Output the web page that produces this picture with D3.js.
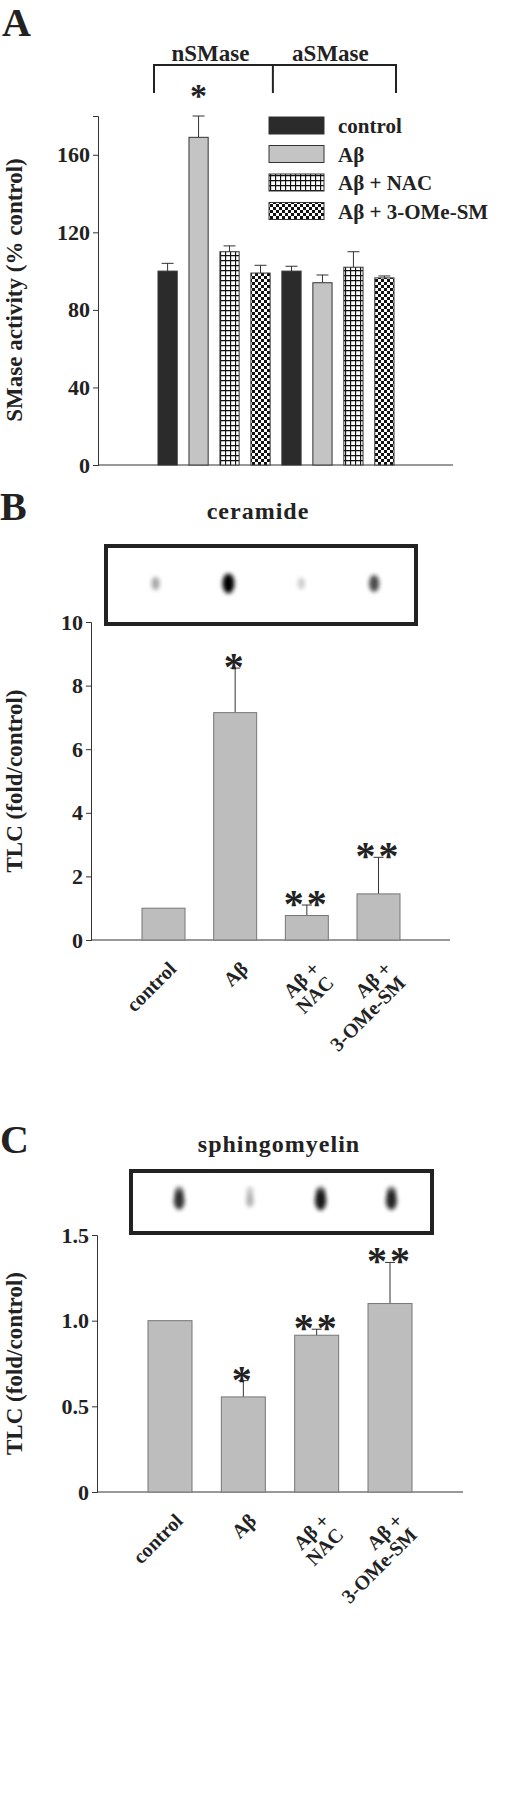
<!DOCTYPE html>
<html>
<head>
<meta charset="utf-8">
<script src="https://cdn.jsdelivr.net/npm/d3@7"></script>
<style>
  body { margin: 0; background: white; }
  text { font-family: "Liberation Serif", "Times New Roman", serif; font-weight: bold; fill: #222; }
</style>
</head>
<body>
<svg id="fig" width="512" height="1800"></svg>
<script>
// ---- data ----
let enzymes = ["nSMase", "aSMase"];
let treatments = ["control", "Aβ", "Aβ + NAC", "Aβ + 3-OMe-SM"];
let smaseMean = [[100, 169, 110, 99], [100, 94, 102, 96.5]];
let smaseErr = [[4, 11, 3, 4], [2.5, 4, 8, 1]];
let smaseStars = [["", "*", "", ""], ["", "", "", ""]];
let smaseTicks = [0, 40, 80, 120, 160];

let tlcLabels = [["control"], ["Aβ"], ["Aβ +", "NAC"], ["Aβ +", "3-OMe-SM"]];
let ceramideMean = [1.0, 7.15, 0.77, 1.45];
let ceramideErr = [0, 1.4, 0.33, 1.15];
let ceramideStars = ["", "*", "**", "**"];
let ceramideTicks = [0, 2, 4, 6, 8, 10];
let ceramideSpots = [0.35, 1.0, 0.2, 0.7];

let smMean = [1.0, 0.555, 0.915, 1.10];
let smErr = [0, 0.095, 0.035, 0.24];
let smStars = ["", "*", "**", "**"];
let smTicks = [0, 0.5, 1.0, 1.5];
let smSpots = [0.8, 0.3, 0.9, 0.85];

let svg = d3.select("#fig");
let defs = svg.append("defs");

// patterns
let grid = defs.append("pattern").attr("id", "grid").attr("patternUnits", "userSpaceOnUse")
  .attr("width", 5).attr("height", 5);
grid.append("rect").attr("width", 5).attr("height", 5).attr("fill", "white");
grid.append("path").attr("d", "M0,0.5H5M0.5,0V5").attr("stroke", "#111").attr("stroke-width", 1.3);
let checks = defs.append("pattern").attr("id", "checks").attr("patternUnits", "userSpaceOnUse")
  .attr("width", 6).attr("height", 6);
checks.append("rect").attr("width", 6).attr("height", 6).attr("fill", "white");
checks.append("rect").attr("width", 3).attr("height", 3).attr("fill", "#111");
checks.append("rect").attr("x", 3).attr("y", 3).attr("width", 3).attr("height", 3).attr("fill", "#111");
defs.append("filter").attr("id", "blur").attr("x", "-100%").attr("y", "-100%").attr("width", "300%").attr("height", "300%")
  .append("feGaussianBlur").attr("stdDeviation", 2.2);

let fills = ["#2b2b2b", "#c4c4c4", "url(#grid)", "url(#checks)"];

function yAxis(g, y, ticks, fmt, x0, fontSize) {
  g.append("g").attr("transform", "translate(" + x0 + ",0)")
    .call(d3.axisLeft(y).tickValues(ticks).tickSize(5).tickFormat(fmt))
    .call(a => a.select(".domain").attr("stroke", "#333"))
    .call(a => a.selectAll("line").attr("stroke", "#333"))
    .call(a => a.selectAll("text").attr("font-size", fontSize).attr("font-family", "Liberation Serif").attr("font-weight", "bold").attr("fill", "#222"));
}

// ---- Panel A ----
let gA = svg.append("g");
let yA = d3.scaleLinear().domain([0, 180]).range([465, 116]);
let xA = d3.scaleBand().domain(d3.range(8)).range([158, 394]).paddingInner(0.38);
yAxis(gA, yA, smaseTicks, d3.format("d"), 98, 22);
gA.append("line").attr("x1", 98).attr("x2", 453).attr("y1", yA(0)).attr("y2", yA(0)).attr("stroke", "#333");

let aData = [];
enzymes.forEach((e, i) => treatments.forEach((t, j) => aData.push({i: i * 4 + j, t: j, v: smaseMean[i][j], e: smaseErr[i][j], s: smaseStars[i][j]})));
aData.forEach(d => {
  let cx = xA(d.i) + xA.bandwidth() / 2;
  gA.append("line").attr("x1", cx).attr("x2", cx).attr("y1", yA(d.v)).attr("y2", yA(d.v + d.e)).attr("stroke", "#333");
  gA.append("line").attr("x1", cx - 6).attr("x2", cx + 6).attr("y1", yA(d.v + d.e)).attr("y2", yA(d.v + d.e)).attr("stroke", "#333");
  gA.append("rect").attr("x", xA(d.i)).attr("width", xA.bandwidth()).attr("y", yA(d.v)).attr("height", yA(0) - yA(d.v))
    .attr("fill", fills[d.t]).attr("stroke", "#333").attr("stroke-width", 1);
  if (d.s) gA.append("text").attr("x", cx).attr("y", 107).attr("text-anchor", "middle").attr("font-size", 34).text(d.s);
});
// bracket
let bx0 = xA(0) - 4, bx1 = xA(4) - 9, bx2 = xA(7) + xA.bandwidth() + 2;
gA.append("path").attr("d", `M${bx0},93V65H${bx2}V93M${bx1},65V93`).attr("fill", "none").attr("stroke", "#222").attr("stroke-width", 2);
gA.append("text").attr("x", (bx0 + bx1) / 2 - 3).attr("y", 61).attr("text-anchor", "middle").attr("font-size", 23).text(enzymes[0]);
gA.append("text").attr("x", (bx1 + bx2) / 2 - 4).attr("y", 61).attr("text-anchor", "middle").attr("font-size", 23).text(enzymes[1]);
// legend
treatments.forEach((t, j) => {
  let ly = 117 + j * 28.5;
  gA.append("rect").attr("x", 269).attr("y", ly).attr("width", 55).attr("height", 17).attr("fill", fills[j]).attr("stroke", "#333");
  gA.append("text").attr("x", 338).attr("y", ly + 16).attr("font-size", 21).text(t);
});
gA.append("text").attr("transform", "translate(22,290) rotate(-90)").attr("text-anchor", "middle").attr("font-size", 23).text("SMase activity (% control)");
gA.append("text").attr("x", 2).attr("y", 36).attr("font-size", 40).text("A");

// ---- TLC panels ----
function tlcPanel(opt) {
  let g = svg.append("g");
  let y = d3.scaleLinear().domain(opt.domain).range([opt.y0, opt.y1]);
  let x = d3.scaleBand().domain(d3.range(4)).range([opt.bx0, opt.bx1]).paddingInner(0.4);
  yAxis(g, y, opt.ticks, opt.fmt, opt.ax, 22);
  g.append("line").attr("x1", opt.ax).attr("x2", opt.axEnd).attr("y1", y(0)).attr("y2", y(0)).attr("stroke", "#333");
  opt.mean.forEach((v, i) => {
    let cx = x(i) + x.bandwidth() / 2, top = v + opt.err[i];
    if (opt.err[i] > 0) {
      g.append("line").attr("x1", cx).attr("x2", cx).attr("y1", y(v)).attr("y2", y(top)).attr("stroke", "#333");
      g.append("line").attr("x1", cx - 5).attr("x2", cx + 5).attr("y1", y(top)).attr("y2", y(top)).attr("stroke", "#333");
    }
    g.append("rect").attr("x", x(i)).attr("width", x.bandwidth()).attr("y", y(v)).attr("height", y(0) - y(v))
      .attr("fill", "#bdbdbd").attr("stroke", "#777");
    if (opt.stars[i]) g.append("text").attr("x", cx).attr("y", y(top) + 12)
      .attr("text-anchor", "middle").attr("font-size", 40).attr("letter-spacing", 3).text(opt.stars[i]);
    let lab = g.append("text").attr("text-anchor", "end").attr("font-size", 20)
      .attr("transform", `translate(${cx + 14},${y(0) + 30}) rotate(-45)`);
    opt.labels[i].forEach((l, k) => lab.append("tspan").attr("x", 0).attr("dy", k ? "1em" : 0).text(l));
  });
  // blot
  g.append("rect").attr("x", opt.box[0]).attr("y", opt.box[1]).attr("width", opt.box[2]).attr("height", opt.box[3])
    .attr("fill", "white").attr("stroke", "#222").attr("stroke-width", 4);
  opt.spots.forEach((s, i) => {
    let sx = opt.box[0] + opt.box[2] * (0.16 + i * 0.235);
    let sy = opt.box[1] + opt.box[3] * 0.48;
    g.append("ellipse").attr("cx", sx).attr("cy", sy).attr("rx", 3 + 3 * s).attr("ry", 5 + 5 * s)
      .attr("fill", "#000").attr("opacity", s).attr("filter", "url(#blur)");
    if (opt.double) g.append("ellipse").attr("cx", sx).attr("cy", sy - 9).attr("rx", 3 + 2 * s).attr("ry", 5)
      .attr("fill", "#000").attr("opacity", s * 0.7).attr("filter", "url(#blur)");
  });
  g.append("text").attr("x", opt.titleX).attr("y", opt.titleY).attr("text-anchor", "middle").attr("font-size", 24).attr("letter-spacing", 1).text(opt.title);
  g.append("text").attr("x", 0).attr("y", opt.titleY + 1).attr("font-size", 40).text(opt.letter);
  g.append("text").attr("transform", `translate(22,${(opt.y0 + opt.y1) / 2}) rotate(-90)`).attr("text-anchor", "middle").attr("font-size", 23).text("TLC (fold/control)");
}

tlcPanel({domain: [0, 10], y0: 940, y1: 622, bx0: 142, bx1: 400, ax: 91, axEnd: 450, ticks: ceramideTicks, fmt: d3.format("d"),
  mean: ceramideMean, err: ceramideErr, stars: ceramideStars, labels: tlcLabels, spots: ceramideSpots,
  box: [106, 546, 310, 78], double: false, title: "ceramide", titleX: 258, titleY: 519, letter: "B"});
tlcPanel({domain: [0, 1.5], y0: 1492, y1: 1235, bx0: 148, bx1: 412, ax: 97, axEnd: 463, ticks: smTicks, fmt: d => d === 0 ? "0" : d3.format(".1f")(d),
  mean: smMean, err: smErr, stars: smStars, labels: tlcLabels, spots: smSpots,
  box: [131, 1171, 301, 62], double: true, title: "sphingomyelin", titleX: 279, titleY: 1152, letter: "C"});
</script>
</body>
</html>
